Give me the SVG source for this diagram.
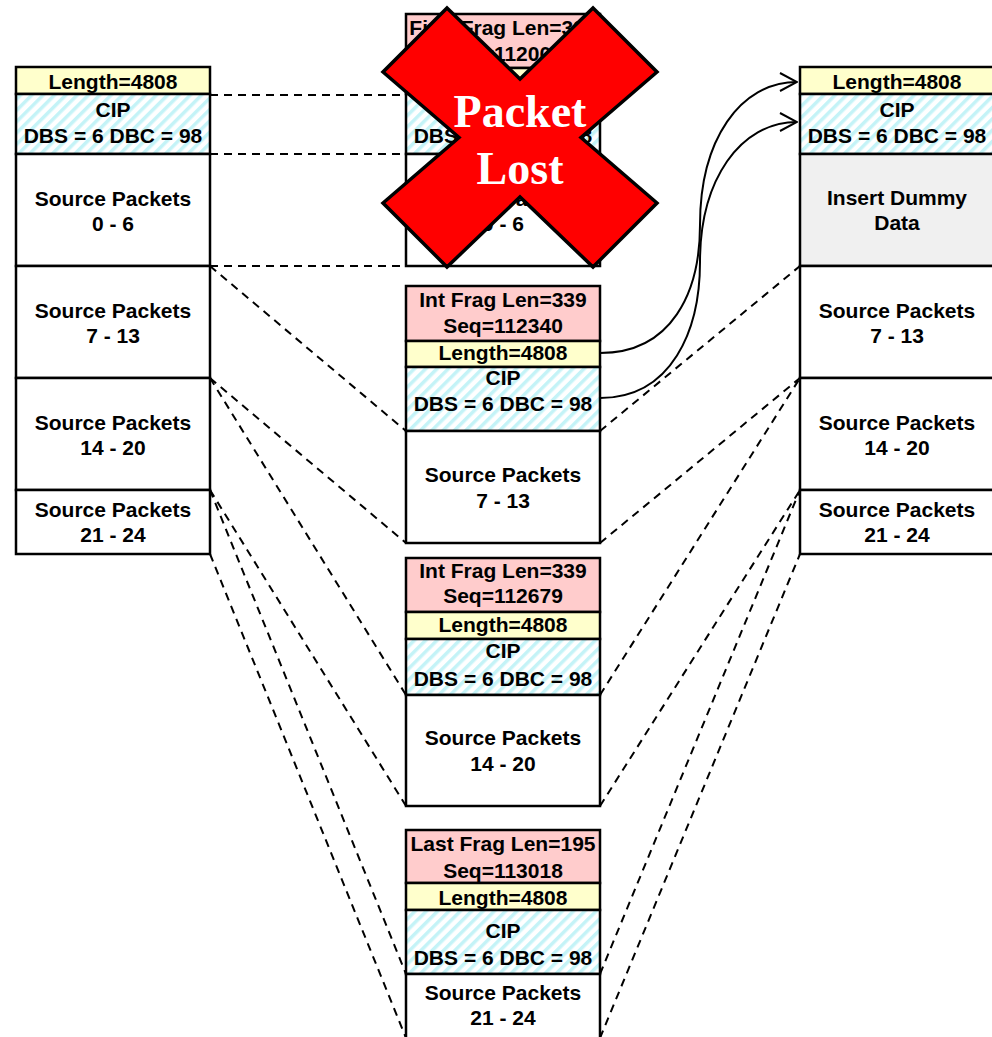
<svg xmlns="http://www.w3.org/2000/svg" width="992" height="1037" viewBox="0 0 992 1037">
<style>
.t{font-family:"Liberation Sans",Arial,sans-serif;font-weight:bold;font-size:21px;text-anchor:middle;fill:#000}
.b{stroke:#000;stroke-width:2.5}
.pk{fill:#ffcccc}
.ye{fill:#ffffcc}
.ci{fill:url(#hatch)}
.wh{fill:#fff}
.gr{fill:#f0f0f0}
.d{fill:none;stroke:#000;stroke-width:2;stroke-dasharray:8 6}
.c{fill:none;stroke:#000;stroke-width:2;marker-end:url(#arr)}
.xt{font-family:"Liberation Serif","Times New Roman",serif;font-weight:bold;font-size:46px;text-anchor:middle;fill:#fff}
</style>
<defs>
<pattern id="hatch" width="8" height="8" patternUnits="userSpaceOnUse" patternTransform="rotate(45)">
<rect width="8" height="8" fill="#fff"/>
<rect width="3.5" height="8" fill="#c4f3f7"/>
</pattern>
<marker id="arr" viewBox="0 0 20 20" refX="19" refY="10" markerWidth="20" markerHeight="20" markerUnits="userSpaceOnUse" orient="auto">
<path d="M2,1 L19,10 L2,19" fill="none" stroke="#000" stroke-width="2"/>
</marker>
</defs>
<rect width="992" height="1037" fill="#fff"/>

<g id="connectors">
<path class="d" d="M210,95 H406 M210,154 H406 M210,266 H406"/>
<path class="d" d="M210,266 L406,431 M210,378 L406,543"/>
<path class="d" d="M210,378 L406,695 M210,490 L406,806"/>
<path class="d" d="M210,490 L406,974 M210,554 L406,1038"/>
<path class="d" d="M600,431 L800,266 M600,543 L800,378"/>
<path class="d" d="M600,695 L800,378 M600,806 L800,490"/>
<path class="d" d="M600,974 L800,490 M600,1038 L800,554"/>
<path class="c" d="M600,353 C672,353 700,292 700,225 C700,140 740,82 797,82"/>
<path class="c" d="M600,398 C672,398 700,330 700,262 C700,180 740,122 797,122"/>
</g>

<g id="left-packet">
<rect class="b ye" x="16" y="67" width="194" height="27"/>
<rect class="b ci" x="16" y="94" width="194" height="60"/>
<rect class="b wh" x="16" y="154" width="194" height="112"/>
<rect class="b wh" x="16" y="266" width="194" height="112"/>
<rect class="b wh" x="16" y="378" width="194" height="112"/>
<rect class="b wh" x="16" y="490" width="194" height="64"/>
<text class="t" x="113" y="89">Length=4808</text>
<text class="t" x="113" y="117">CIP</text>
<text class="t" x="113" y="143">DBS = 6 DBC = 98</text>
<text class="t" x="113" y="206">Source Packets</text>
<text class="t" x="113" y="231">0 - 6</text>
<text class="t" x="113" y="318">Source Packets</text>
<text class="t" x="113" y="343">7 - 13</text>
<text class="t" x="113" y="430">Source Packets</text>
<text class="t" x="113" y="455">14 - 20</text>
<text class="t" x="113" y="517">Source Packets</text>
<text class="t" x="113" y="542">21 - 24</text>
</g>

<g id="frame-1-lost">
<rect class="b pk" x="406" y="14" width="194" height="54"/>
<rect class="b ye" x="406" y="68" width="194" height="26"/>
<rect class="b ci" x="406" y="94" width="194" height="60"/>
<rect class="b wh" x="406" y="154" width="194" height="112"/>
<text class="t" x="503" y="35">First Frag Len=339</text>
<text class="t" x="503" y="61">Seq=112001</text>
<text class="t" x="503" y="89">Length=4808</text>
<text class="t" x="503" y="117">CIP</text>
<text class="t" x="503" y="143">DBS = 6 DBC = 98</text>
<text class="t" x="503" y="206">Source Packets</text>
<text class="t" x="503" y="231">0 - 6</text>
</g>

<g id="frame-2">
<rect class="b pk" x="406" y="286" width="194" height="55"/>
<rect class="b ye" x="406" y="341" width="194" height="26"/>
<rect class="b ci" x="406" y="367" width="194" height="64"/>
<rect class="b wh" x="406" y="431" width="194" height="112"/>
<text class="t" x="503" y="307">Int Frag Len=339</text>
<text class="t" x="503" y="333">Seq=112340</text>
<text class="t" x="503" y="360">Length=4808</text>
<text class="t" x="503" y="385">CIP</text>
<text class="t" x="503" y="411">DBS = 6 DBC = 98</text>
<text class="t" x="503" y="482">Source Packets</text>
<text class="t" x="503" y="508">7 - 13</text>
</g>

<g id="frame-3">
<rect class="b pk" x="406" y="558" width="194" height="54"/>
<rect class="b ye" x="406" y="612" width="194" height="27"/>
<rect class="b ci" x="406" y="639" width="194" height="56"/>
<rect class="b wh" x="406" y="695" width="194" height="111"/>
<text class="t" x="503" y="578">Int Frag Len=339</text>
<text class="t" x="503" y="603">Seq=112679</text>
<text class="t" x="503" y="632">Length=4808</text>
<text class="t" x="503" y="658">CIP</text>
<text class="t" x="503" y="686">DBS = 6 DBC = 98</text>
<text class="t" x="503" y="745">Source Packets</text>
<text class="t" x="503" y="771">14 - 20</text>
</g>

<g id="frame-4">
<rect class="b pk" x="406" y="830" width="194" height="53"/>
<rect class="b ye" x="406" y="883" width="194" height="27"/>
<rect class="b ci" x="406" y="910" width="194" height="64"/>
<rect class="b wh" x="406" y="974" width="194" height="70"/>
<text class="t" x="503" y="851">Last Frag Len=195</text>
<text class="t" x="503" y="878">Seq=113018</text>
<text class="t" x="503" y="905">Length=4808</text>
<text class="t" x="503" y="938">CIP</text>
<text class="t" x="503" y="965">DBS = 6 DBC = 98</text>
<text class="t" x="503" y="1000">Source Packets</text>
<text class="t" x="503" y="1025">21 - 24</text>
</g>

<g id="right-packet">
<rect class="b ye" x="800" y="67" width="194" height="27"/>
<rect class="b ci" x="800" y="94" width="194" height="60"/>
<rect class="b gr" x="800" y="154" width="194" height="112"/>
<rect class="b wh" x="800" y="266" width="194" height="112"/>
<rect class="b wh" x="800" y="378" width="194" height="112"/>
<rect class="b wh" x="800" y="490" width="194" height="64"/>
<text class="t" x="897" y="89">Length=4808</text>
<text class="t" x="897" y="117">CIP</text>
<text class="t" x="897" y="143">DBS = 6 DBC = 98</text>
<text class="t" x="897" y="205">Insert Dummy</text>
<text class="t" x="897" y="230">Data</text>
<text class="t" x="897" y="318">Source Packets</text>
<text class="t" x="897" y="343">7 - 13</text>
<text class="t" x="897" y="430">Source Packets</text>
<text class="t" x="897" y="455">14 - 20</text>
<text class="t" x="897" y="517">Source Packets</text>
<text class="t" x="897" y="542">21 - 24</text>
</g>

<g id="packet-lost">
<polygon points="447,8 520,79 593,8 657,72 581,137.5 657,203 593,267 520,197 447,267 383,203 459,137.5 383,72" fill="#ff0000" stroke="#000" stroke-width="3.5" stroke-linejoin="miter"/>
<text class="xt" x="520" y="127">Packet</text>
<text class="xt" x="520" y="184">Lost</text>
</g>
</svg>
